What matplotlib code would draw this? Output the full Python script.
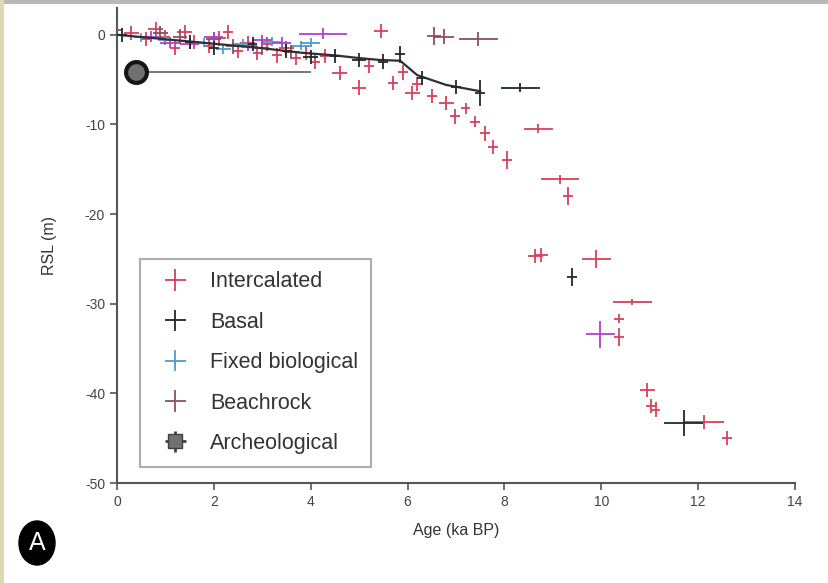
import matplotlib.pyplot as plt
from matplotlib.patches import Ellipse
from matplotlib.lines import Line2D

plt.rcParams["font.family"] = ["Liberation Sans", "DejaVu Sans"]
plt.rcParams["axes.unicode_minus"] = False

# Sea-level index points: age (ka BP), RSL (m), half-widths of the errors
inter_age = [0.3, 0.6, 0.8, 1.0, 1.2, 1.4, 1.6, 1.9, 2.1, 2.3, 2.5, 2.7, 2.9, 3.1, 3.3,
             3.5, 3.7, 3.9, 4.1, 4.3, 4.6, 5.0, 5.2, 5.45, 5.7, 5.9, 6.1, 6.2, 6.5, 6.8,
             6.98, 7.2, 7.4, 7.6, 7.77, 8.06, 8.7, 8.64, 8.76, 9.15, 9.32, 9.9, 10.37,
             10.37, 10.64, 10.95, 11.03, 11.12, 12.13, 12.6]
inter_rsl = [0.2, -0.5, 0.6, -0.3, -1.5, 0.3, -0.8, -1.2, -0.4, 0.3, -1.8, -0.9, -2.0, -1.0,
             -2.3, -1.5, -2.6, -2.0, -3.0, -2.4, -4.3, -5.9, -3.5, 0.4, -5.4, -4.2, -6.5,
             -5.5, -6.8, -7.6, -9.1, -8.2, -9.7, -11.0, -12.5, -14.0, -10.5, -24.7, -24.6,
             -16.1, -18.0, -25.0, -31.7, -33.7, -29.8, -39.6, -41.4, -41.8, -43.2, -45.0]
inter_xerr = [0.15, 0.1, 0.15, 0.1, 0.1, 0.15, 0.1, 0.1, 0.15, 0.1, 0.1, 0.15, 0.1, 0.1, 0.1,
              0.15, 0.1, 0.1, 0.1, 0.1, 0.15, 0.15, 0.1, 0.15, 0.1, 0.1, 0.15, 0.1, 0.1, 0.15,
              0.1, 0.1, 0.1, 0.1, 0.1, 0.1, 0.3, 0.15, 0.15, 0.4, 0.1, 0.3, 0.1, 0.1, 0.4,
              0.15, 0.1, 0.1, 0.4, 0.1]
inter_yerr = [0.8, 0.8, 0.8, 0.8, 0.8, 0.8, 0.8, 0.8, 0.8, 0.8, 0.8, 0.8, 0.8, 0.8, 0.8,
              0.8, 0.8, 0.8, 0.8, 0.8, 0.8, 0.8, 0.8, 0.8, 0.8, 0.8, 0.8, 0.8, 0.8, 0.8,
              0.8, 0.6, 0.6, 0.8, 0.8, 1.0, 0.5, 0.8, 0.8, 0.5, 1.0, 1.0, 0.5, 1.0, 0.3,
              0.8, 0.8, 0.8, 0.8, 0.8]

basal_age = [0.1, 1.5, 2.0, 2.8, 3.5, 4.0, 4.5, 5.0, 5.5, 5.85, 6.3, 7.0, 7.5, 8.33, 9.4, 11.7]
basal_rsl = [0.0, -0.8, -1.5, -1.0, -1.8, -2.5, -2.4, -2.8, -3.0, -2.2, -4.8, -5.8, -6.5,
             -5.9, -27.0, -43.3]
basal_xerr = [0.1, 0.1, 0.1, 0.1, 0.1, 0.15, 0.1, 0.15, 0.1, 0.1, 0.1, 0.1, 0.1, 0.4, 0.1, 0.4]
basal_yerr = [0.8, 0.8, 0.8, 0.8, 0.8, 0.8, 0.8, 0.8, 0.8, 1.0, 0.8, 0.8, 1.5, 0.5, 1.0, 1.5]

fixed_age = [0.5, 1.0, 1.8, 2.2, 2.6, 3.2, 3.8, 4.0]
fixed_rsl = [-0.3, -0.6, -0.9, -1.6, -1.0, -0.8, -1.2, -0.9]
fixed_xerr = [0.15, 0.15, 0.15, 0.15, 0.2, 0.2, 0.2, 0.2]
fixed_yerr = [0.5, 0.5, 0.5, 0.5, 0.5, 0.5, 0.5, 0.5]

beach_age = [0.0, 0.9, 1.3, 2.0, 2.4, 3.0, 3.6, 6.55, 6.75, 7.46]
beach_rsl = [0.5, 0.2, -0.2, -0.5, -1.3, -1.5, -1.9, -0.1, -0.2, -0.5]
beach_xerr = [0.1, 0.15, 0.15, 0.15, 0.15, 0.15, 0.15, 0.15, 0.2, 0.4]
beach_yerr = [1.0, 0.8, 0.8, 0.8, 0.8, 0.8, 0.8, 1.0, 0.8, 0.8]

other_age = [0.7, 1.1, 1.5, 2.0, 2.7, 3.0, 3.4, 4.26, 9.98]
other_rsl = [-0.2, -0.9, -1.0, -0.3, -1.2, -0.6, -0.9, 0.1, -33.4]
other_xerr = [0.2, 0.2, 0.2, 0.2, 0.2, 0.2, 0.2, 0.5, 0.3]
other_yerr = [0.6, 0.6, 0.6, 0.6, 0.6, 0.6, 0.6, 0.6, 1.5]

arch_age = [0.4]
arch_rsl = [-4.2]
arch_xerr = [[0.2], [3.6]]

curve_age = [0, 1, 2, 3, 3.8, 4.5, 5.0, 5.4, 5.85, 6.2, 6.8, 7.5]
curve_rsl = [0, -0.5, -1.0, -1.5, -2.0, -2.3, -2.6, -2.8, -2.9, -4.5, -5.6, -6.3]

fig = plt.figure(figsize=(8.29, 5.83), dpi=100)
ax = fig.add_axes([0.141, 0.1715, 0.818, 0.815])

ax.plot(curve_age, curve_rsl, color="#303030", lw=1.6, zorder=4)

ax.errorbar(inter_age, inter_rsl, xerr=inter_xerr, yerr=inter_yerr, fmt="none",
            ecolor="#d8405a", elinewidth=1.3, label="Intercalated", zorder=3)
ax.errorbar(basal_age, basal_rsl, xerr=basal_xerr, yerr=basal_yerr, fmt="none",
            ecolor="#1e2a2a", elinewidth=1.3, label="Basal", zorder=5)
ax.errorbar(fixed_age, fixed_rsl, xerr=fixed_xerr, yerr=fixed_yerr, fmt="none",
            ecolor="#4f9ccc", elinewidth=1.3, label="Fixed biological", zorder=3)
ax.errorbar(beach_age, beach_rsl, xerr=beach_xerr, yerr=beach_yerr, fmt="none",
            ecolor="#8a5060", elinewidth=1.3, label="Beachrock", zorder=3)
ax.errorbar(other_age, other_rsl, xerr=other_xerr, yerr=other_yerr, fmt="none",
            ecolor="#b040d0", elinewidth=1.3, zorder=3)

# archaeological marker with its long age range
ax.errorbar(arch_age, arch_rsl, xerr=arch_xerr, fmt="none", ecolor="#606060",
            elinewidth=1.2, zorder=4)
ax.plot(arch_age, arch_rsl, "o", ms=15, mfc="#707070", mec="#151515", mew=3, zorder=6)
ax.errorbar([], [], xerr=[], yerr=[], fmt="s", ms=10, mfc="#707070", mec="#404040",
            ecolor="#404040", elinewidth=2, label="Archeological")

ax.set_xlim(0, 14)
ax.set_ylim(-50, 3)
ax.set_xticks(range(0, 15, 2))
ax.set_yticks(range(-50, 1, 10))
ax.spines["top"].set_visible(False)
ax.spines["right"].set_visible(False)
for s in ("left", "bottom"):
    ax.spines[s].set_color("#555555")
    ax.spines[s].set_linewidth(1.5)
ax.tick_params(direction="out", length=5, width=1.2, color="#555555",
               labelsize=10, labelcolor="#444444")
ax.set_xlabel("Age (ka BP)", fontsize=11.5, color="#333333", labelpad=10)
ax.set_ylabel("RSL (m)", fontsize=11.5, color="#333333", labelpad=20)

leg = ax.legend(loc="lower left", bbox_to_anchor=(0.034, 0.034), borderaxespad=0,
                fontsize=15.5, frameon=True, fancybox=False, edgecolor="#999999",
                labelspacing=0.9, handlelength=2.1, borderpad=0.6, handletextpad=0.55)
leg.get_frame().set_linewidth(1.5)
for t in leg.get_texts():
    t.set_color("#333333")

# panel letter
fig.patches.append(Ellipse((37 / 829, 1 - 543 / 583), 36 / 829, 44 / 583,
                           transform=fig.transFigure, facecolor="black", edgecolor="black"))
fig.text(37 / 829, 1 - 543 / 583, "A", color="white", fontsize=18,
         ha="center", va="center")

# thin frame lines along the top and left edge
fig.add_artist(Line2D([0, 1], [0.997, 0.997], transform=fig.transFigure,
                      color="#b8b8b8", lw=3))
fig.add_artist(Line2D([0.002, 0.002], [0, 1], transform=fig.transFigure,
                      color="#e0d8b0", lw=3))

fig.savefig("out.png", dpi=100, facecolor="white")
